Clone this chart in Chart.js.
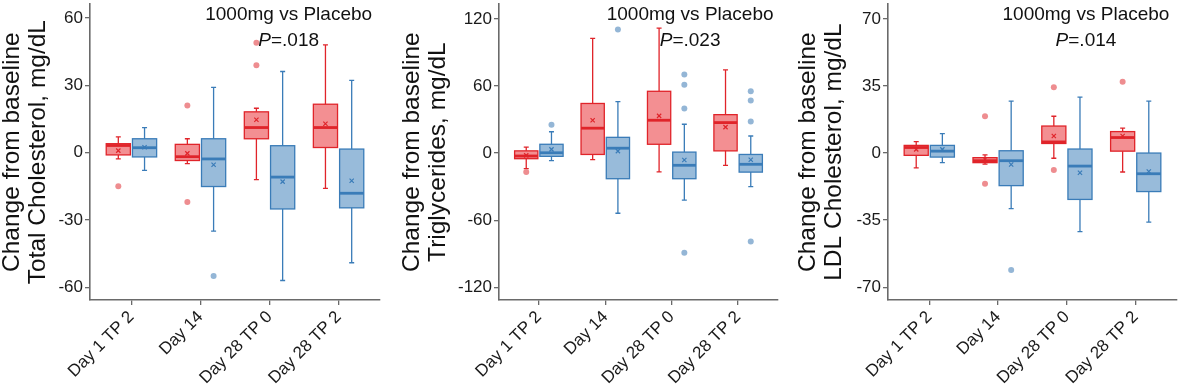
<!DOCTYPE html>
<html>
<head>
<meta charset="utf-8">
<script src="https://cdn.jsdelivr.net/npm/chart.js@4"></script>
<style>
  html, body { margin: 0; padding: 0; background: #fff; }
  body { width: 1196px; height: 387px; position: relative; overflow: hidden; }
  .panel { position: absolute; top: 0; }
</style>
</head>
<body>
<div class="panel" style="left:0px"><canvas id="tcChart" width="392" height="387"></canvas></div>
<div class="panel" style="left:400px"><canvas id="tgChart" width="390" height="387"></canvas></div>
<div class="panel" style="left:796px"><canvas id="ldlChart" width="393" height="387"></canvas></div>
<script>
const timepoints = ['Day 1 TP 2', 'Day 14', 'Day 28 TP 0', 'Day 28 TP 2'];

// boxes are [min, q1, median, q3, max] per timepoint
const tcTicks = [-60, -30, 0, 30, 60];
const tcDoseBox = [[-2.8, -1, 3.2, 4, 7], [-4.9, -3.5, -1.8, 3.7, 6.2], [-12, 6.2, 11.2, 18.2, 19.8], [-15.9, 2.3, 11.2, 21.6, 48.1]];
const tcPlaceboBox = [[-7.9, -1.9, 2.2, 6.2, 11.2], [-35, -15.1, -2.8, 6.2, 29.1], [-57, -25.1, -10.9, 3.1, 36.2], [-49.1, -24.6, -18.1, 1.6, 32.2]];
const tcDoseMean = [0.9, -0.3, 14.7, 12.9];
const tcPlaceboMean = [2.4, -5.4, -12.9, -12.5];
const tcDoseOut = [[-15], [21, -22], [49, 39], []];
const tcPlaceboOut = [[], [-55], [], []];

const tgTicks = [-120, -60, 0, 60, 120];
const tgDoseBox = [[-13.8, -5, -2.6, 2, 5.3], [-5.9, -1.2, 22.3, 44.4, 102.6], [-16.8, 7.9, 29.4, 55.3, 111.8], [-10.9, 2, 27.3, 34.4, 74.4]];
const tgPlaceboBox = [[-6.8, -2.9, 0.3, 7.9, 19.1], [-53.8, -22.9, 4.4, 14.1, 46.1], [-42.1, -22.9, -10.9, 0.9, 25.8], [-30, -17, -10, -1.2, 15.3]];
const tgDoseMean = [-2, 29.4, 33.3, 23.2];
const tgPlaceboMean = [3.3, 1.8, -6.2, -5.9];
const tgDoseOut = [[-16.8], [], [], []];
const tgPlaceboOut = [[25.3], [110.6], [70.3, 61.1, 40, -89.1], [55.3, 47, 28.2, -79.1]];

const ldlTicks = [-70, -35, 0, 35, 70];
const ldlDoseBox = [[-7.7, -1.2, 2.9, 4, 6], [-5.8, -5, -4, -2.4, -0.9], [-2.7, 5, 5.8, 14.1, 19.2], [-9.9, 1, 8.1, 11.2, 13]];
const ldlPlaceboBox = [[-5, -2.1, 1, 4, 10.1], [-29, -17, -4, 1.2, 27.1], [-41, -24.2, -6.8, 2.1, 29.2], [-36, -20.1, -10.8, 0, 27.1]];
const ldlDoseMean = [1.9, -3.2, 8.9, 8.9];
const ldlPlaceboMean = [1.9, -6, -10.3, -9.6];
const ldlDoseOut = [[], [19.2, -16], [34.3, -8.9], [37.2]];
const ldlPlaceboOut = [[], [-61.1], [], []];

const FONT = "'Liberation Sans', Arial, sans-serif";
const RED = '#e0242a';
const RED_FILL = 'rgba(232, 40, 46, 0.52)';
const RED_DOT = '#ee8d90';
const BLUE = '#3a7cb8';
const BLUE_FILL = 'rgba(58, 124, 184, 0.52)';
const BLUE_DOT = '#94b6d6';
const OFFSET = 0.19;
const BOX_W = 0.35;
const AXIS = '#6a6a6a';

const boxPlugin = {
  id: 'boxes',
  beforeDatasetsDraw(chart, args, opts) {
    const { ctx } = chart;
    const x = chart.scales.x;
    const y = chart.scales.y;
    const half = (x.getPixelForValue(BOX_W) - x.getPixelForValue(0)) / 2;
    opts.groups.forEach((g) => {
      g.boxes.forEach((b, i) => {
        const cx = x.getPixelForValue(i + g.offset);
        const [lo, q1, med, q3, hi] = b.map((v) => y.getPixelForValue(v));
        ctx.save();
        ctx.strokeStyle = g.stroke;
        ctx.lineWidth = 1.3;
        ctx.beginPath();
        ctx.moveTo(cx, hi); ctx.lineTo(cx, q3);
        ctx.moveTo(cx, q1); ctx.lineTo(cx, lo);
        ctx.moveTo(cx - 2.5, hi); ctx.lineTo(cx + 2.5, hi);
        ctx.moveTo(cx - 2.5, lo); ctx.lineTo(cx + 2.5, lo);
        ctx.stroke();
        ctx.fillStyle = g.fill;
        ctx.fillRect(cx - half, q3, half * 2, q1 - q3);
        ctx.strokeRect(cx - half, q3, half * 2, q1 - q3);
        ctx.lineWidth = 2.8;
        ctx.beginPath();
        ctx.moveTo(cx - half, med); ctx.lineTo(cx + half, med);
        ctx.stroke();
        ctx.restore();
      });
    });
  }
};

const notePlugin = {
  id: 'note',
  afterDraw(chart, args, opts) {
    const { ctx, chartArea } = chart;
    const cx = chartArea.left + chartArea.width * 0.685;
    ctx.save();
    ctx.fillStyle = '#111';
    ctx.textBaseline = 'middle';
    ctx.textAlign = 'center';
    ctx.font = '19px ' + FONT;
    ctx.fillText('1000mg vs Placebo', cx, 15);
    const rest = '=' + opts.p;
    ctx.font = 'italic 19px ' + FONT;
    const wP = ctx.measureText('P').width;
    ctx.font = '19px ' + FONT;
    const wR = ctx.measureText(rest).width;
    const start = cx - (wP + wR) / 2;
    ctx.textAlign = 'left';
    ctx.font = 'italic 19px ' + FONT;
    ctx.fillText('P', start, 41);
    ctx.font = '19px ' + FONT;
    ctx.fillText(rest, start + wP, 41);
    ctx.restore();
  }
};

function scatterSet(points, color, style, radius) {
  return {
    type: 'scatter',
    data: points,
    pointStyle: style,
    pointRadius: radius,
    pointHoverRadius: radius,
    borderWidth: style === 'crossRot' ? 1.2 : 0,
    backgroundColor: color,
    borderColor: color
  };
}

function outlierPoints(list, offset) {
  const pts = [];
  list.forEach((vals, i) => vals.forEach((v) => pts.push({ x: i + offset, y: v })));
  return pts;
}

function meanPoints(list, offset) {
  return list.map((v, i) => ({ x: i + offset, y: v }));
}

function makePanel(id, p) {
  new Chart(document.getElementById(id), {
    type: 'scatter',
    data: {
      datasets: [
        scatterSet(outlierPoints(p.doseOut, -OFFSET), RED_DOT, 'circle', 3),
        scatterSet(outlierPoints(p.placeboOut, OFFSET), BLUE_DOT, 'circle', 3),
        scatterSet(meanPoints(p.doseMean, -OFFSET), RED, 'crossRot', 3),
        scatterSet(meanPoints(p.placeboMean, OFFSET), BLUE, 'crossRot', 3)
      ]
    },
    options: {
      responsive: false,
      devicePixelRatio: 1,
      animation: false,
      events: [],
      layout: { padding: { top: 0, right: 12, left: 0, bottom: 0 } },
      plugins: {
        legend: { display: false },
        tooltip: { enabled: false },
        boxes: {
          groups: [
            { boxes: p.doseBox, offset: -OFFSET, stroke: RED, fill: RED_FILL },
            { boxes: p.placeboBox, offset: OFFSET, stroke: BLUE, fill: BLUE_FILL }
          ]
        },
        note: { p: p.pValue }
      },
      scales: {
        x: {
          type: 'linear',
          min: -0.6,
          max: 3.6,
          afterBuildTicks: (s) => { s.ticks = timepoints.map((_, i) => ({ value: i })); },
          afterFit: (s) => { s.height = 87; s.paddingLeft = 0; s.paddingRight = 0; },
          grid: { display: true, drawOnChartArea: false, drawTicks: true, tickLength: 5, color: AXIS, lineWidth: 1.3 },
          border: { display: true, color: AXIS, width: 1.6 },
          ticks: {
            minRotation: 45,
            maxRotation: 45,
            padding: 2,
            color: '#1a1a1a',
            font: { family: FONT, size: 17 },
            callback: (v) => timepoints[v]
          }
        },
        y: {
          min: p.yMin,
          max: p.yMax,
          afterBuildTicks: (s) => { s.ticks = p.ticks.map((v) => ({ value: v })); },
          afterFit: (s) => { s.width = p.axisWidth; s.paddingTop = 0; s.paddingBottom = 0; },
          grid: { display: true, drawOnChartArea: false, drawTicks: true, tickLength: 5, color: AXIS, lineWidth: 1.3 },
          border: { display: true, color: AXIS, width: 1.6 },
          ticks: {
            padding: 2,
            color: '#1a1a1a',
            font: { family: FONT, size: 17 }
          },
          title: {
            display: true,
            text: p.title,
            color: '#111',
            font: { family: FONT, size: 24.5, lineHeight: 1.03 },
            padding: { top: 0, bottom: 0 }
          }
        }
      }
    },
    plugins: [boxPlugin, notePlugin]
  });
}

makePanel('tcChart', {
  title: ['Change from baseline', 'Total Cholesterol, mg/dL'],
  ticks: tcTicks, yMin: -65.7, yMax: 66.2, axisWidth: 90, pValue: '.018',
  doseBox: tcDoseBox, placeboBox: tcPlaceboBox, doseMean: tcDoseMean, placeboMean: tcPlaceboMean,
  doseOut: tcDoseOut, placeboOut: tcPlaceboOut
});

makePanel('tgChart', {
  title: ['Change from baseline', 'Triglycerides, mg/dL'],
  ticks: tgTicks, yMin: -131.4, yMax: 133.2, axisWidth: 99, pValue: '.023',
  doseBox: tgDoseBox, placeboBox: tgPlaceboBox, doseMean: tgDoseMean, placeboMean: tgPlaceboMean,
  doseOut: tgDoseOut, placeboOut: tgPlaceboOut
});

makePanel('ldlChart', {
  title: ['Change from baseline', 'LDL Cholesterol, mg/dL'],
  ticks: ldlTicks, yMin: -76.7, yMax: 77.7, axisWidth: 92, pValue: '.014',
  doseBox: ldlDoseBox, placeboBox: ldlPlaceboBox, doseMean: ldlDoseMean, placeboMean: ldlPlaceboMean,
  doseOut: ldlDoseOut, placeboOut: ldlPlaceboOut
});
</script>
</body>
</html>
